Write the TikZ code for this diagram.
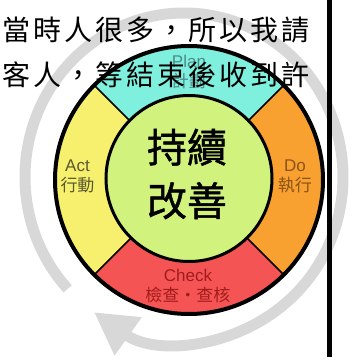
\documentclass[tikz,border=0pt]{standalone}
\usepackage{fontspec}
\setmainfont{Liberation Sans}
\newfontfamily\cjk{Noto Sans CJK TC}
\newfontfamily\cjkheavy[FakeBold=1.2]{Noto Sans CJK TC}
\newfontfamily\cjkline[LetterSpace=10.7]{Noto Sans CJK TC}
\usetikzlibrary{arrows.meta}
\definecolor{plancol}{HTML}{80F0DE}
\definecolor{docol}{HTML}{F8A030}
\definecolor{checkcol}{HTML}{F55454}
\definecolor{actcol}{HTML}{F7F06E}
\definecolor{hubcol}{HTML}{D2F27E}
\definecolor{ringcol}{HTML}{D8D8D8}
\definecolor{plantext}{HTML}{4E8A8A}
\definecolor{dotext}{HTML}{8A5418}
\definecolor{checktext}{HTML}{A31C1C}
\definecolor{acttext}{HTML}{5A5830}
\tikzset{
  phase/.style={align=center, inner sep=0pt, font=\fontsize{17}{20}\selectfont},
  divider/.style={line width=1.6pt},
  ringline/.style={draw=ringcol, line width=11pt, -{Triangle[length=42pt,width=44pt]}},
  hub/.style={circle, fill=hubcol, draw, line width=3pt, minimum size=166pt, inner sep=0pt},
  motto/.style={align=center, inner sep=0pt, font=\cjkheavy\fontsize{40}{53.5}\selectfont},
  textline/.style={anchor=west, inner sep=0pt, font=\cjkline\fontsize{28}{28}\selectfont}
}
\begin{document}
\begin{tikzpicture}[x=1pt,y=1pt]
\useasboundingbox (0,0) rectangle (356,360);
% grey cycle arrow behind the wheel
\draw[ringline] (184,183) ++(223:159pt and 164pt) arc[start angle=223, end angle=-124.5, x radius=159pt, y radius=164pt];
% the four phases
\coordinate (c) at (189,180);
\fill[plancol] (c) -- ++(45:134pt) arc[start angle=45, end angle=135, radius=134pt] -- cycle;
\fill[actcol] (c) -- ++(135:134pt) arc[start angle=135, end angle=225, radius=134pt] -- cycle;
\fill[checkcol] (c) -- ++(225:134pt) arc[start angle=225, end angle=315, radius=134pt] -- cycle;
\fill[docol] (c) -- ++(315:134pt) arc[start angle=315, end angle=405, radius=134pt] -- cycle;
\draw[divider] (c) ++(45:80pt) -- ++(45:54pt);
\draw[divider] (c) ++(135:80pt) -- ++(135:54pt);
\draw[divider] (c) ++(225:80pt) -- ++(225:54pt);
\draw[divider] (c) ++(315:80pt) -- ++(315:54pt);
\draw[line width=4pt] (c) circle[radius=134pt];
\node[phase, text=plantext] (plan) at (189,287.5) {Plan\\{\cjk 計劃}};
\node[phase, text=dotext] (do) at (295,183.5) {Do\\{\cjk 執行}};
\node[phase, text=checktext] (check) at (188,73.5) {Check\\{\cjk 檢查・查核}};
\node[phase, text=acttext] (act) at (77.5,183.5) {Act\\{\cjk 行動}};
% centre
\node[hub] (core) at (189,181.5) {};
\node[motto] (slogan) at (187,186) {持續\\改善};
% black bar and the text above
\fill (327,3) rectangle (332,360);
\node[textline] (line1) at (2,330) {當時人很多，所以我請};
\node[textline] (line2) at (2,285.5) {客人，等結束後收到許};
\end{tikzpicture}
\end{document}
